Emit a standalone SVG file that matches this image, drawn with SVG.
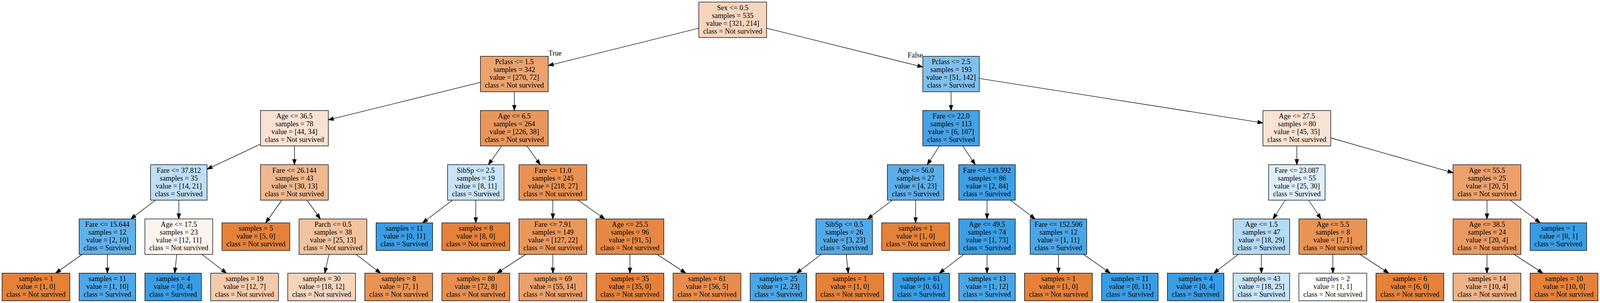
<svg xmlns="http://www.w3.org/2000/svg" width="4152" height="775" viewBox="0 0 4152 775">
<defs>
<style>
.n rect{stroke:#000;stroke-width:1}
text{font-family:"Liberation Serif","Times New Roman",serif;font-size:14px;text-anchor:middle;fill:#000}
#edges line{stroke:#000;stroke-width:1;marker-end:url(#ah)}
</style>
<marker id="ah" markerUnits="userSpaceOnUse" viewBox="-1 -5 12 10" markerWidth="12" markerHeight="10" refX="10" refY="0" orient="auto" overflow="visible">
<path d="M0,-3.5 L10,0 L0,3.5 Z" fill="#000" stroke="#000" stroke-width="1"/>
</marker>
</defs>
<rect x="0" y="0" width="4152" height="775" fill="#fff"/>
<g transform="scale(1.315351,1.333333)">
<g id="edges">
<line x1="1360" y1="54.15" x2="1067" y2="125.85"/>
<line x1="1492" y1="54.15" x2="1796" y2="128.54"/>
<line x1="935" y1="158.04" x2="639" y2="229.96"/>
<line x1="1001" y1="176" x2="1001" y2="212"/>
<line x1="507" y1="276.5" x2="403" y2="324.58"/>
<line x1="573" y1="280" x2="573" y2="316"/>
<line x1="302.56" y1="384" x2="254.44" y2="420"/>
<line x1="348" y1="384" x2="348" y2="420"/>
<line x1="160.03" y1="488" x2="108.17" y2="524"/>
<line x1="209" y1="488" x2="209" y2="524"/>
<line x1="344.12" y1="488" x2="340.02" y2="524"/>
<line x1="393.1" y1="488" x2="440.85" y2="524"/>
<line x1="548.48" y1="384" x2="517.11" y2="427.5"/>
<line x1="597.52" y1="384" x2="623.48" y2="420"/>
<line x1="640.25" y1="488" x2="632.04" y2="524"/>
<line x1="693.1" y1="488" x2="740.85" y2="524"/>
<line x1="976.48" y1="280" x2="950.52" y2="316"/>
<line x1="1025.52" y1="280" x2="1051.48" y2="316"/>
<line x1="880.56" y1="384" x2="822.42" y2="427.5"/>
<line x1="926" y1="384" x2="926" y2="427.5"/>
<line x1="1076" y1="384" x2="1076" y2="420"/>
<line x1="1125.04" y1="384" x2="1176.96" y2="420"/>
<line x1="1023.15" y1="488" x2="967.19" y2="524"/>
<line x1="1076" y1="488" x2="1076" y2="524"/>
<line x1="1226" y1="488" x2="1226" y2="524"/>
<line x1="1278.85" y1="488" x2="1334.81" y2="524"/>
<line x1="1851" y1="176" x2="1851" y2="212"/>
<line x1="1906" y1="150.5" x2="2458" y2="235.8"/>
<line x1="1828.44" y1="280" x2="1804.56" y2="316"/>
<line x1="1873.88" y1="280" x2="1898.12" y2="316"/>
<line x1="1736.56" y1="384" x2="1688.44" y2="420"/>
<line x1="1782" y1="384" x2="1782" y2="427.5"/>
<line x1="1597.9" y1="488" x2="1550.15" y2="524"/>
<line x1="1646.88" y1="488" x2="1650.98" y2="524"/>
<line x1="1921" y1="384" x2="1921" y2="420"/>
<line x1="1966.44" y1="384" x2="2014.56" y2="420"/>
<line x1="1875.9" y1="488" x2="1828.15" y2="524"/>
<line x1="1921" y1="488" x2="1921" y2="524"/>
<line x1="2060" y1="488" x2="2060" y2="524"/>
<line x1="2108.97" y1="488" x2="2160.83" y2="524"/>
<line x1="2524" y1="280" x2="2524" y2="316"/>
<line x1="2590" y1="264.55" x2="2828" y2="331.45"/>
<line x1="2501.44" y1="384" x2="2477.56" y2="420"/>
<line x1="2546.88" y1="384" x2="2571.12" y2="420"/>
<line x1="2409.9" y1="488" x2="2362.15" y2="524"/>
<line x1="2455" y1="488" x2="2455" y2="524"/>
<line x1="2594" y1="488" x2="2594" y2="524"/>
<line x1="2646.85" y1="488" x2="2702.81" y2="524"/>
<line x1="2894" y1="384" x2="2894" y2="420"/>
<line x1="2939.44" y1="384" x2="2997.58" y2="427.5"/>
<line x1="2894" y1="488" x2="2894" y2="524"/>
<line x1="2946.85" y1="488" x2="3002.81" y2="524"/>
<text x="1080.3" y="106.8">True</text>
<text x="1781.2" y="110">False</text>
</g>
<g id="n0" class="n"><rect x="1360" y="4" width="132" height="68" fill="#f6d5bd"/><text y="19.2"><tspan x="1426">Sex &lt;= 0.5</tspan><tspan x="1426" dy="15">samples = 535</tspan><tspan x="1426" dy="15">value = [321, 214]</tspan><tspan x="1426" dy="15">class = Not survived</tspan></text></g>
<g id="n1" class="n"><rect x="935" y="108" width="132" height="68" fill="#eca36e"/><text y="123.2"><tspan x="1001">Pclass &lt;= 1.5</tspan><tspan x="1001" dy="15">samples = 342</tspan><tspan x="1001" dy="15">value = [270, 72]</tspan><tspan x="1001" dy="15">class = Not survived</tspan></text></g>
<g id="n2" class="n"><rect x="507" y="212" width="132" height="68" fill="#f9e2d2"/><text y="227.2"><tspan x="573">Age &lt;= 36.5</tspan><tspan x="573" dy="15">samples = 78</tspan><tspan x="573" dy="15">value = [44, 34]</tspan><tspan x="573" dy="15">class = Not survived</tspan></text></g>
<g id="n3" class="n"><rect x="293" y="316" width="110" height="68" fill="#bddef6"/><text y="331.2"><tspan x="348">Fare &lt;= 37.812</tspan><tspan x="348" dy="15">samples = 35</tspan><tspan x="348" dy="15">value = [14, 21]</tspan><tspan x="348" dy="15">class = Survived</tspan></text></g>
<g id="n4" class="n"><rect x="154" y="420" width="110" height="68" fill="#61b1ea"/><text y="435.2"><tspan x="209">Fare &lt;= 15.644</tspan><tspan x="209" dy="15">samples = 12</tspan><tspan x="209" dy="15">value = [2, 10]</tspan><tspan x="209" dy="15">class = Survived</tspan></text></g>
<g id="n5" class="n"><rect x="4" y="524" width="132" height="53" fill="#e58139"/><text y="539.2"><tspan x="70">samples = 1</tspan><tspan x="70" dy="15">value = [1, 0]</tspan><tspan x="70" dy="15">class = Not survived</tspan></text></g>
<g id="n6" class="n"><rect x="154" y="524" width="110" height="53" fill="#4da7e8"/><text y="539.2"><tspan x="209">samples = 11</tspan><tspan x="209" dy="15">value = [1, 10]</tspan><tspan x="209" dy="15">class = Survived</tspan></text></g>
<g id="n7" class="n"><rect x="282" y="420" width="132" height="68" fill="#fdf4ee"/><text y="435.2"><tspan x="348">Age &lt;= 17.5</tspan><tspan x="348" dy="15">samples = 23</tspan><tspan x="348" dy="15">value = [12, 11]</tspan><tspan x="348" dy="15">class = Not survived</tspan></text></g>
<g id="n8" class="n"><rect x="282" y="524" width="110" height="53" fill="#399de5"/><text y="539.2"><tspan x="337">samples = 4</tspan><tspan x="337" dy="15">value = [0, 4]</tspan><tspan x="337" dy="15">class = Survived</tspan></text></g>
<g id="n9" class="n"><rect x="410" y="524" width="132" height="53" fill="#f4caac"/><text y="539.2"><tspan x="476">samples = 19</tspan><tspan x="476" dy="15">value = [12, 7]</tspan><tspan x="476" dy="15">class = Not survived</tspan></text></g>
<g id="n10" class="n"><rect x="507" y="316" width="132" height="68" fill="#f0b88f"/><text y="331.2"><tspan x="573">Fare &lt;= 26.144</tspan><tspan x="573" dy="15">samples = 43</tspan><tspan x="573" dy="15">value = [30, 13]</tspan><tspan x="573" dy="15">class = Not survived</tspan></text></g>
<g id="n11" class="n"><rect x="432" y="427.5" width="132" height="53" fill="#e58139"/><text y="442.7"><tspan x="498">samples = 5</tspan><tspan x="498" dy="15">value = [5, 0]</tspan><tspan x="498" dy="15">class = Not survived</tspan></text></g>
<g id="n12" class="n"><rect x="582" y="420" width="132" height="68" fill="#f3c3a0"/><text y="435.2"><tspan x="648">Parch &lt;= 0.5</tspan><tspan x="648" dy="15">samples = 38</tspan><tspan x="648" dy="15">value = [25, 13]</tspan><tspan x="648" dy="15">class = Not survived</tspan></text></g>
<g id="n13" class="n"><rect x="560" y="524" width="132" height="53" fill="#f6d5bd"/><text y="539.2"><tspan x="626">samples = 30</tspan><tspan x="626" dy="15">value = [18, 12]</tspan><tspan x="626" dy="15">class = Not survived</tspan></text></g>
<g id="n14" class="n"><rect x="710" y="524" width="132" height="53" fill="#e99355"/><text y="539.2"><tspan x="776">samples = 8</tspan><tspan x="776" dy="15">value = [7, 1]</tspan><tspan x="776" dy="15">class = Not survived</tspan></text></g>
<g id="n15" class="n"><rect x="935" y="212" width="132" height="68" fill="#e9965a"/><text y="227.2"><tspan x="1001">Age &lt;= 6.5</tspan><tspan x="1001" dy="15">samples = 264</tspan><tspan x="1001" dy="15">value = [226, 38]</tspan><tspan x="1001" dy="15">class = Not survived</tspan></text></g>
<g id="n16" class="n"><rect x="871" y="316" width="110" height="68" fill="#c9e4f8"/><text y="331.2"><tspan x="926">SibSp &lt;= 2.5</tspan><tspan x="926" dy="15">samples = 19</tspan><tspan x="926" dy="15">value = [8, 11]</tspan><tspan x="926" dy="15">class = Survived</tspan></text></g>
<g id="n17" class="n"><rect x="732" y="427.5" width="110" height="53" fill="#399de5"/><text y="442.7"><tspan x="787">samples = 11</tspan><tspan x="787" dy="15">value = [0, 11]</tspan><tspan x="787" dy="15">class = Survived</tspan></text></g>
<g id="n18" class="n"><rect x="860" y="427.5" width="132" height="53" fill="#e58139"/><text y="442.7"><tspan x="926">samples = 8</tspan><tspan x="926" dy="15">value = [8, 0]</tspan><tspan x="926" dy="15">class = Not survived</tspan></text></g>
<g id="n19" class="n"><rect x="1010" y="316" width="132" height="68" fill="#e89152"/><text y="331.2"><tspan x="1076">Fare &lt;= 11.0</tspan><tspan x="1076" dy="15">samples = 245</tspan><tspan x="1076" dy="15">value = [218, 27]</tspan><tspan x="1076" dy="15">class = Not survived</tspan></text></g>
<g id="n20" class="n"><rect x="1010" y="420" width="132" height="68" fill="#ea975b"/><text y="435.2"><tspan x="1076">Fare &lt;= 7.91</tspan><tspan x="1076" dy="15">samples = 149</tspan><tspan x="1076" dy="15">value = [127, 22]</tspan><tspan x="1076" dy="15">class = Not survived</tspan></text></g>
<g id="n21" class="n"><rect x="860" y="524" width="132" height="53" fill="#e88f4f"/><text y="539.2"><tspan x="926">samples = 80</tspan><tspan x="926" dy="15">value = [72, 8]</tspan><tspan x="926" dy="15">class = Not survived</tspan></text></g>
<g id="n22" class="n"><rect x="1010" y="524" width="132" height="53" fill="#eca16b"/><text y="539.2"><tspan x="1076">samples = 69</tspan><tspan x="1076" dy="15">value = [55, 14]</tspan><tspan x="1076" dy="15">class = Not survived</tspan></text></g>
<g id="n23" class="n"><rect x="1160" y="420" width="132" height="68" fill="#e68844"/><text y="435.2"><tspan x="1226">Age &lt;= 25.5</tspan><tspan x="1226" dy="15">samples = 96</tspan><tspan x="1226" dy="15">value = [91, 5]</tspan><tspan x="1226" dy="15">class = Not survived</tspan></text></g>
<g id="n24" class="n"><rect x="1160" y="524" width="132" height="53" fill="#e58139"/><text y="539.2"><tspan x="1226">samples = 35</tspan><tspan x="1226" dy="15">value = [35, 0]</tspan><tspan x="1226" dy="15">class = Not survived</tspan></text></g>
<g id="n25" class="n"><rect x="1310" y="524" width="132" height="53" fill="#e78c4b"/><text y="539.2"><tspan x="1376">samples = 61</tspan><tspan x="1376" dy="15">value = [56, 5]</tspan><tspan x="1376" dy="15">class = Not survived</tspan></text></g>
<g id="n26" class="n"><rect x="1796" y="108" width="110" height="68" fill="#80c0ee"/><text y="123.2"><tspan x="1851">Pclass &lt;= 2.5</tspan><tspan x="1851" dy="15">samples = 193</tspan><tspan x="1851" dy="15">value = [51, 142]</tspan><tspan x="1851" dy="15">class = Survived</tspan></text></g>
<g id="n27" class="n"><rect x="1796" y="212" width="110" height="68" fill="#44a2e6"/><text y="227.2"><tspan x="1851">Fare &lt;= 22.0</tspan><tspan x="1851" dy="15">samples = 113</tspan><tspan x="1851" dy="15">value = [6, 107]</tspan><tspan x="1851" dy="15">class = Survived</tspan></text></g>
<g id="n28" class="n"><rect x="1727" y="316" width="110" height="68" fill="#5baee9"/><text y="331.2"><tspan x="1782">Age &lt;= 56.0</tspan><tspan x="1782" dy="15">samples = 27</tspan><tspan x="1782" dy="15">value = [4, 23]</tspan><tspan x="1782" dy="15">class = Survived</tspan></text></g>
<g id="n29" class="n"><rect x="1588" y="420" width="110" height="68" fill="#53aae8"/><text y="435.2"><tspan x="1643">SibSp &lt;= 0.5</tspan><tspan x="1643" dy="15">samples = 26</tspan><tspan x="1643" dy="15">value = [3, 23]</tspan><tspan x="1643" dy="15">class = Survived</tspan></text></g>
<g id="n30" class="n"><rect x="1460" y="524" width="110" height="53" fill="#4aa6e7"/><text y="539.2"><tspan x="1515">samples = 25</tspan><tspan x="1515" dy="15">value = [2, 23]</tspan><tspan x="1515" dy="15">class = Survived</tspan></text></g>
<g id="n31" class="n"><rect x="1588" y="524" width="132" height="53" fill="#e58139"/><text y="539.2"><tspan x="1654">samples = 1</tspan><tspan x="1654" dy="15">value = [1, 0]</tspan><tspan x="1654" dy="15">class = Not survived</tspan></text></g>
<g id="n32" class="n"><rect x="1716" y="427.5" width="132" height="53" fill="#e58139"/><text y="442.7"><tspan x="1782">samples = 1</tspan><tspan x="1782" dy="15">value = [1, 0]</tspan><tspan x="1782" dy="15">class = Not survived</tspan></text></g>
<g id="n33" class="n"><rect x="1866" y="316" width="110" height="68" fill="#3e9fe6"/><text y="331.2"><tspan x="1921">Fare &lt;= 143.592</tspan><tspan x="1921" dy="15">samples = 86</tspan><tspan x="1921" dy="15">value = [2, 84]</tspan><tspan x="1921" dy="15">class = Survived</tspan></text></g>
<g id="n34" class="n"><rect x="1866" y="420" width="110" height="68" fill="#3c9ee5"/><text y="435.2"><tspan x="1921">Age &lt;= 49.5</tspan><tspan x="1921" dy="15">samples = 74</tspan><tspan x="1921" dy="15">value = [1, 73]</tspan><tspan x="1921" dy="15">class = Survived</tspan></text></g>
<g id="n35" class="n"><rect x="1738" y="524" width="110" height="53" fill="#399de5"/><text y="539.2"><tspan x="1793">samples = 61</tspan><tspan x="1793" dy="15">value = [0, 61]</tspan><tspan x="1793" dy="15">class = Survived</tspan></text></g>
<g id="n36" class="n"><rect x="1866" y="524" width="110" height="53" fill="#4aa5e7"/><text y="539.2"><tspan x="1921">samples = 13</tspan><tspan x="1921" dy="15">value = [1, 12]</tspan><tspan x="1921" dy="15">class = Survived</tspan></text></g>
<g id="n37" class="n"><rect x="2005" y="420" width="110" height="68" fill="#4ba6e7"/><text y="435.2"><tspan x="2060">Fare &lt;= 152.506</tspan><tspan x="2060" dy="15">samples = 12</tspan><tspan x="2060" dy="15">value = [1, 11]</tspan><tspan x="2060" dy="15">class = Survived</tspan></text></g>
<g id="n38" class="n"><rect x="1994" y="524" width="132" height="53" fill="#e58139"/><text y="539.2"><tspan x="2060">samples = 1</tspan><tspan x="2060" dy="15">value = [1, 0]</tspan><tspan x="2060" dy="15">class = Not survived</tspan></text></g>
<g id="n39" class="n"><rect x="2144" y="524" width="110" height="53" fill="#399de5"/><text y="539.2"><tspan x="2199">samples = 11</tspan><tspan x="2199" dy="15">value = [0, 11]</tspan><tspan x="2199" dy="15">class = Survived</tspan></text></g>
<g id="n40" class="n"><rect x="2458" y="212" width="132" height="68" fill="#f9e3d3"/><text y="227.2"><tspan x="2524">Age &lt;= 27.5</tspan><tspan x="2524" dy="15">samples = 80</tspan><tspan x="2524" dy="15">value = [45, 35]</tspan><tspan x="2524" dy="15">class = Not survived</tspan></text></g>
<g id="n41" class="n"><rect x="2469" y="316" width="110" height="68" fill="#deeffb"/><text y="331.2"><tspan x="2524">Fare &lt;= 23.087</tspan><tspan x="2524" dy="15">samples = 55</tspan><tspan x="2524" dy="15">value = [25, 30]</tspan><tspan x="2524" dy="15">class = Survived</tspan></text></g>
<g id="n42" class="n"><rect x="2400" y="420" width="110" height="68" fill="#b4daf5"/><text y="435.2"><tspan x="2455">Age &lt;= 1.5</tspan><tspan x="2455" dy="15">samples = 47</tspan><tspan x="2455" dy="15">value = [18, 29]</tspan><tspan x="2455" dy="15">class = Survived</tspan></text></g>
<g id="n43" class="n"><rect x="2272" y="524" width="110" height="53" fill="#399de5"/><text y="539.2"><tspan x="2327">samples = 4</tspan><tspan x="2327" dy="15">value = [0, 4]</tspan><tspan x="2327" dy="15">class = Survived</tspan></text></g>
<g id="n44" class="n"><rect x="2400" y="524" width="110" height="53" fill="#c8e4f8"/><text y="539.2"><tspan x="2455">samples = 43</tspan><tspan x="2455" dy="15">value = [18, 25]</tspan><tspan x="2455" dy="15">class = Survived</tspan></text></g>
<g id="n45" class="n"><rect x="2528" y="420" width="132" height="68" fill="#e99355"/><text y="435.2"><tspan x="2594">Age &lt;= 5.5</tspan><tspan x="2594" dy="15">samples = 8</tspan><tspan x="2594" dy="15">value = [7, 1]</tspan><tspan x="2594" dy="15">class = Not survived</tspan></text></g>
<g id="n46" class="n"><rect x="2528" y="524" width="132" height="53" fill="#ffffff"/><text y="539.2"><tspan x="2594">samples = 2</tspan><tspan x="2594" dy="15">value = [1, 1]</tspan><tspan x="2594" dy="15">class = Not survived</tspan></text></g>
<g id="n47" class="n"><rect x="2678" y="524" width="132" height="53" fill="#e58139"/><text y="539.2"><tspan x="2744">samples = 6</tspan><tspan x="2744" dy="15">value = [6, 0]</tspan><tspan x="2744" dy="15">class = Not survived</tspan></text></g>
<g id="n48" class="n"><rect x="2828" y="316" width="132" height="68" fill="#eca06a"/><text y="331.2"><tspan x="2894">Age &lt;= 55.5</tspan><tspan x="2894" dy="15">samples = 25</tspan><tspan x="2894" dy="15">value = [20, 5]</tspan><tspan x="2894" dy="15">class = Not survived</tspan></text></g>
<g id="n49" class="n"><rect x="2828" y="420" width="132" height="68" fill="#ea9a61"/><text y="435.2"><tspan x="2894">Age &lt;= 38.5</tspan><tspan x="2894" dy="15">samples = 24</tspan><tspan x="2894" dy="15">value = [20, 4]</tspan><tspan x="2894" dy="15">class = Not survived</tspan></text></g>
<g id="n50" class="n"><rect x="2828" y="524" width="132" height="53" fill="#efb388"/><text y="539.2"><tspan x="2894">samples = 14</tspan><tspan x="2894" dy="15">value = [10, 4]</tspan><tspan x="2894" dy="15">class = Not survived</tspan></text></g>
<g id="n51" class="n"><rect x="2978" y="524" width="132" height="53" fill="#e58139"/><text y="539.2"><tspan x="3044">samples = 10</tspan><tspan x="3044" dy="15">value = [10, 0]</tspan><tspan x="3044" dy="15">class = Not survived</tspan></text></g>
<g id="n52" class="n"><rect x="2978" y="427.5" width="110" height="53" fill="#399de5"/><text y="442.7"><tspan x="3033">samples = 1</tspan><tspan x="3033" dy="15">value = [0, 1]</tspan><tspan x="3033" dy="15">class = Survived</tspan></text></g>
</g>
</svg>
